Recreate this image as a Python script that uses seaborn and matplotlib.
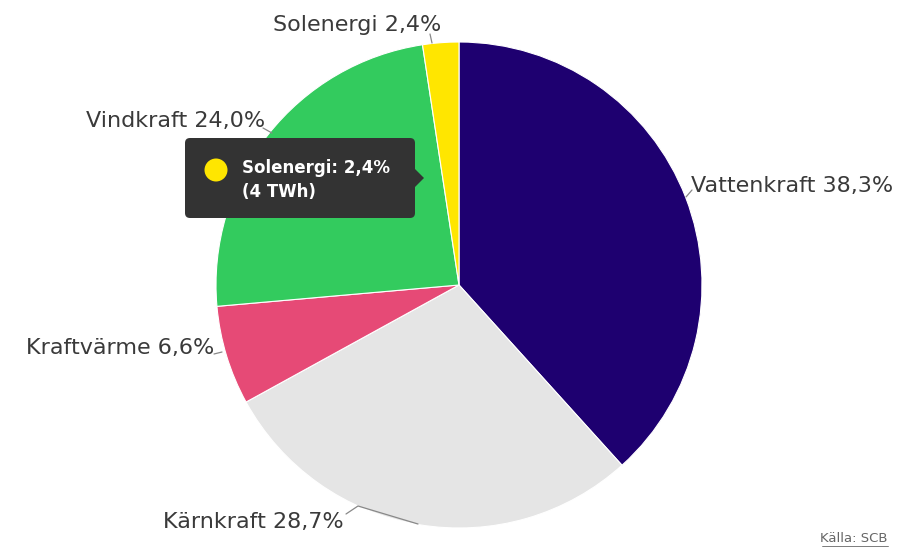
import matplotlib
matplotlib.use("Agg")
import matplotlib.pyplot as plt
from matplotlib.patches import FancyBboxPatch, Polygon, Circle
import seaborn as sns

categories = ["Vattenkraft", "Kärnkraft", "Kraftvärme", "Vindkraft", "Solenergi"]
shares = [38.3, 28.7, 6.6, 24.0, 2.4]
colors = ["#1e0070", "#e5e5e5", "#e64a76", "#33cb5e", "#ffe600"]
tooltip_category = "Solenergi"
tooltip_twh = 4
source = "Källa: SCB"

sns.set_theme(style="white")
plt.rcParams["font.family"] = ["DejaVu Sans"]

W, H = 913, 548
fig = plt.figure(figsize=(W / 100, H / 100), dpi=100)
ax = fig.add_axes([0, 0, 1, 1])

def Y(y):
    return H - y

cx, cy, r = 459, 285, 243
ax.pie(shares, colors=colors, startangle=90, counterclock=False,
       center=(cx, Y(cy)), radius=r, frame=True,
       wedgeprops=dict(edgecolor="white", linewidth=0.8))
ax.set_xlim(0, W)
ax.set_ylim(0, H)
ax.set_aspect("equal")
ax.axis("off")

def fmt(v):
    return f"{v:.1f}".replace(".", ",") + "%"

# label layout: (text x, text y, ha, connector points)
layout = {
    "Vattenkraft": (691, 186, "left", [(686, 197), (692, 190)]),
    "Kärnkraft": (344, 522, "right", [(346, 514), (358, 506), (418, 524)]),
    "Kraftvärme": (214, 348, "right", [(214, 354), (222, 352)]),
    "Vindkraft": (265, 121, "right", [(263, 128), (272, 133)]),
    "Solenergi": (441, 25, "right", [(430, 34), (432, 43)]),
}
for cat, val in zip(categories, shares):
    tx, ty, ha, pts = layout[cat]
    ax.text(tx, Y(ty), f"{cat} {fmt(val)}", ha=ha, va="center",
            fontsize=16, color="#3a3a3a")
    ax.plot([p[0] for p in pts], [Y(p[1]) for p in pts], color="#888888", lw=0.9)

# tooltip
box = FancyBboxPatch((185, Y(218)), 230, 80, boxstyle="round,pad=0,rounding_size=5",
                     facecolor="#333333", edgecolor="none", zorder=5)
ax.add_patch(box)
ax.add_patch(Polygon([(415, Y(169)), (424, Y(178)), (415, Y(187))], closed=True,
                     facecolor="#333333", edgecolor="none", zorder=5))
idx = categories.index(tooltip_category)
ax.add_patch(Circle((216, Y(170)), 11.5, facecolor=colors[idx], edgecolor="none", zorder=6))
ax.text(242, Y(168), f"{tooltip_category}: {fmt(shares[idx])}", ha="left", va="center",
        fontsize=12, fontweight="bold", color="white", zorder=7)
ax.text(242, Y(192), f"({tooltip_twh} TWh)", ha="left", va="center",
        fontsize=12, fontweight="bold", color="white", zorder=7)

# source
ax.text(888, Y(539), source, ha="right", va="center", fontsize=9.5, color="#666666")
ax.plot([822, 888], [Y(546), Y(546)], color="#666666", lw=0.6)

fig.savefig("out.png", dpi=100)
